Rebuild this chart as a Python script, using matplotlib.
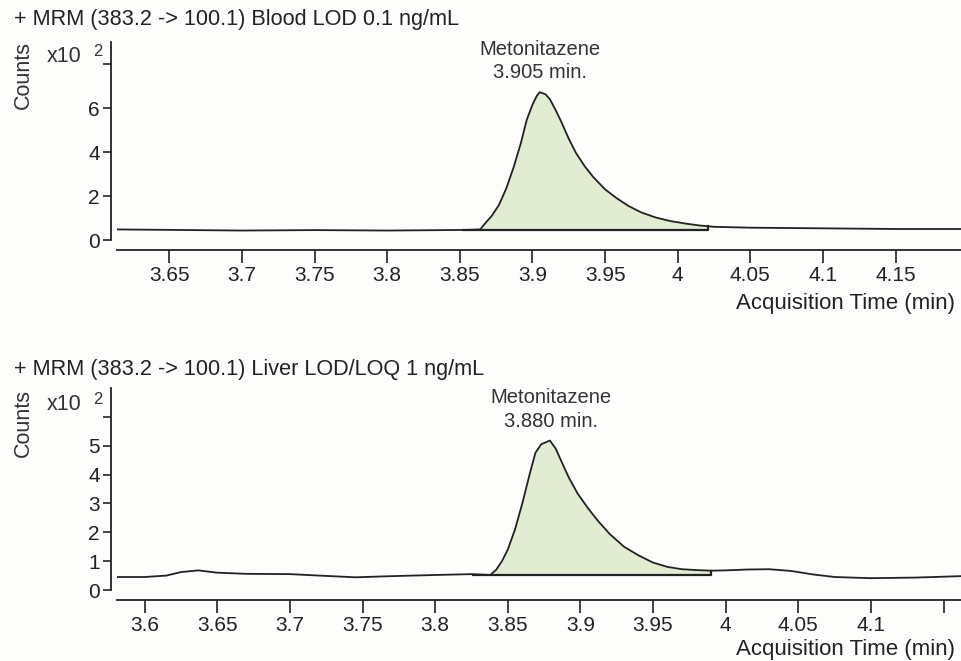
import numpy as np
import matplotlib.pyplot as plt
import matplotlib as mpl

mpl.rcParams.update({"font.family": ["Liberation Sans", "DejaVu Sans"],
                     "font.size": 14})

# MRM 383.2 -> 100.1, blood extract (counts x10^2)
t_blood = [3.614, 3.65, 3.70, 3.75, 3.80, 3.84, 3.855, 3.864, 3.868, 3.872,
           3.877, 3.882, 3.887, 3.892, 3.896, 3.900, 3.903, 3.905, 3.909,
           3.912, 3.916, 3.920, 3.925, 3.930, 3.936, 3.942, 3.950, 3.958,
           3.966, 3.975, 3.985, 3.995, 4.005, 4.015, 4.025, 4.05, 4.10,
           4.15, 4.195]
c_blood = [0.48, 0.46, 0.43, 0.45, 0.43, 0.45, 0.46, 0.48, 0.8, 1.1,
           1.6, 2.35, 3.3, 4.4, 5.45, 6.15, 6.55, 6.72, 6.62,
           6.4, 5.9, 5.35, 4.6, 3.95, 3.35, 2.85, 2.3, 1.9,
           1.55, 1.25, 1.02, 0.86, 0.75, 0.66, 0.6, 0.56, 0.53,
           0.5, 0.5]
blood_rt = 3.905
blood_int = (3.864, 4.021, 0.45)

# MRM 383.2 -> 100.1, liver extract (counts x10^2)
t_liver = [3.581, 3.60, 3.615, 3.625, 3.637, 3.65, 3.67, 3.70, 3.72, 3.745,
           3.77, 3.80, 3.825, 3.838, 3.842, 3.846, 3.850, 3.855, 3.860,
           3.865, 3.869, 3.873, 3.879, 3.883, 3.887, 3.892, 3.898, 3.905,
           3.912, 3.920, 3.930, 3.940, 3.950, 3.960, 3.970, 3.980, 3.990,
           4.00, 4.015, 4.03, 4.045, 4.06, 4.075, 4.10, 4.13, 4.162]
c_liver = [0.45, 0.45, 0.5, 0.62, 0.68, 0.6, 0.56, 0.55, 0.5, 0.44,
           0.48, 0.52, 0.55, 0.52, 0.7, 1.0, 1.4, 2.1, 3.0,
           4.0, 4.75, 5.05, 5.18, 4.9, 4.45, 3.9, 3.35, 2.85,
           2.4, 1.95, 1.5, 1.2, 0.95, 0.8, 0.72, 0.69, 0.67,
           0.68, 0.71, 0.72, 0.66, 0.54, 0.45, 0.41, 0.43, 0.48]
liver_rt = 3.880
liver_int = (3.838, 3.990, 0.52)

W, H = 961, 661
fig = plt.figure(figsize=(W / 100, H / 100), dpi=100)
fill_col = '#e1ecd3'
line_col = '#222222'


def px_axes(left, right, y0, y1):
    # y0 = pixel row of data zero, y1 = pixel row of the top of the y range
    return fig.add_axes([left / W, 1 - y0 / H, (right - left) / W, (y0 - y1) / H])


def draw_panel(ax, t, c, rt, integ, xlim, ylim, yticks, ylabels, xticks, xlabels):
    t = np.array(t)
    c = np.array(c)
    t0, t1, base = integ
    m = (t >= t0) & (t <= t1)
    tt = np.concatenate([[t0], t[m], [t1]])
    cc = np.concatenate([[np.interp(t0, t, c)], c[m], [np.interp(t1, t, c)]])
    ax.fill_between(tt, base, cc, color=fill_col, lw=0)
    ax.plot(t, c, color=line_col, lw=1.3)
    ax.plot([t0 - 0.012, t1, t1], [base, base, cc[-1]], color=line_col, lw=1.6)

    ax.set_xlim(*xlim)
    ax.set_ylim(*ylim)
    ax.set_yticks(yticks)
    ax.set_yticklabels(ylabels)
    ax.set_xticks(xticks)
    ax.set_xticklabels(xlabels)
    for s in ['top', 'right']:
        ax.spines[s].set_visible(False)
    ax.spines['left'].set_position(('outward', 4))
    ax.spines['bottom'].set_position(('outward', 7))
    for s in ['left', 'bottom']:
        ax.spines[s].set_color(line_col)
        ax.spines[s].set_linewidth(1.3)
    ax.tick_params(axis='y', length=5.5, width=1.2, pad=3, labelsize=15,
                   colors=line_col)
    ax.tick_params(axis='x', length=9, width=1.2, pad=2.5, labelsize=15,
                   colors=line_col)
    ax.patch.set_alpha(0)

    ax.annotate('Metonitazene\n%.3f min.' % rt, xy=(rt, max(c)),
                xytext=(0, 7), textcoords='offset points',
                ha='center', va='bottom', fontsize=14.5, color='#333333',
                linespacing=1.3)


ax1 = px_axes(117, 961, 240, 42)
draw_panel(ax1, t_blood, c_blood, blood_rt, blood_int,
           (3.614, 4.195), (0, 9), [0, 2, 4, 6, 8], ['0', '2', '4', '6', ''],
           [3.65, 3.7, 3.75, 3.8, 3.85, 3.9, 3.95, 4.0, 4.05, 4.1, 4.15],
           ['3.65', '3.7', '3.75', '3.8', '3.85', '3.9', '3.95', '4', '4.05',
            '4.1', '4.15'])

ax2 = px_axes(117, 961, 590, 388)
draw_panel(ax2, t_liver, c_liver, liver_rt, liver_int,
           (3.581, 4.162), (0, 7), [0, 1, 2, 3, 4, 5, 6],
           ['0', '1', '2', '3', '4', '5', ''],
           [3.6, 3.65, 3.7, 3.75, 3.8, 3.85, 3.9, 3.95, 4.0, 4.05, 4.1, 4.15],
           ['3.6', '3.65', '3.7', '3.75', '3.8', '3.85', '3.9', '3.95', '4',
            '4.05', '4.1', ''])

# panel titles, y-axis captions and x-axis captions
titles = ['+ MRM (383.2 -> 100.1) Blood LOD 0.1 ng/mL',
          '+ MRM (383.2 -> 100.1) Liver LOD/LOQ 1 ng/mL']
for title, ty, cy, xy, ay in zip(titles, [20, 370], [75, 423], [57, 405], [303, 650]):
    fig.text(14 / W, 1 - ty / H, title, ha='left', va='center', fontsize=15.6,
             color='#222222')
    fig.text(23 / W, 1 - cy / H, 'Counts', rotation=90, ha='center',
             va='center', fontsize=15.5, color='#333333')
    fig.text(47 / W, 1 - xy / H, 'x10', ha='left', va='center', fontsize=15.5,
             color='#333333')
    fig.text(93 / W, 1 - (xy - 5) / H, '2', ha='left', va='center',
             fontsize=12, color='#333333')
    fig.text(955 / W, 1 - ay / H, 'Acquisition Time (min)', ha='right',
             va='center', fontsize=16, color='#222222')

plt.savefig('out.png', dpi=100, facecolor='#fdfdfc')
